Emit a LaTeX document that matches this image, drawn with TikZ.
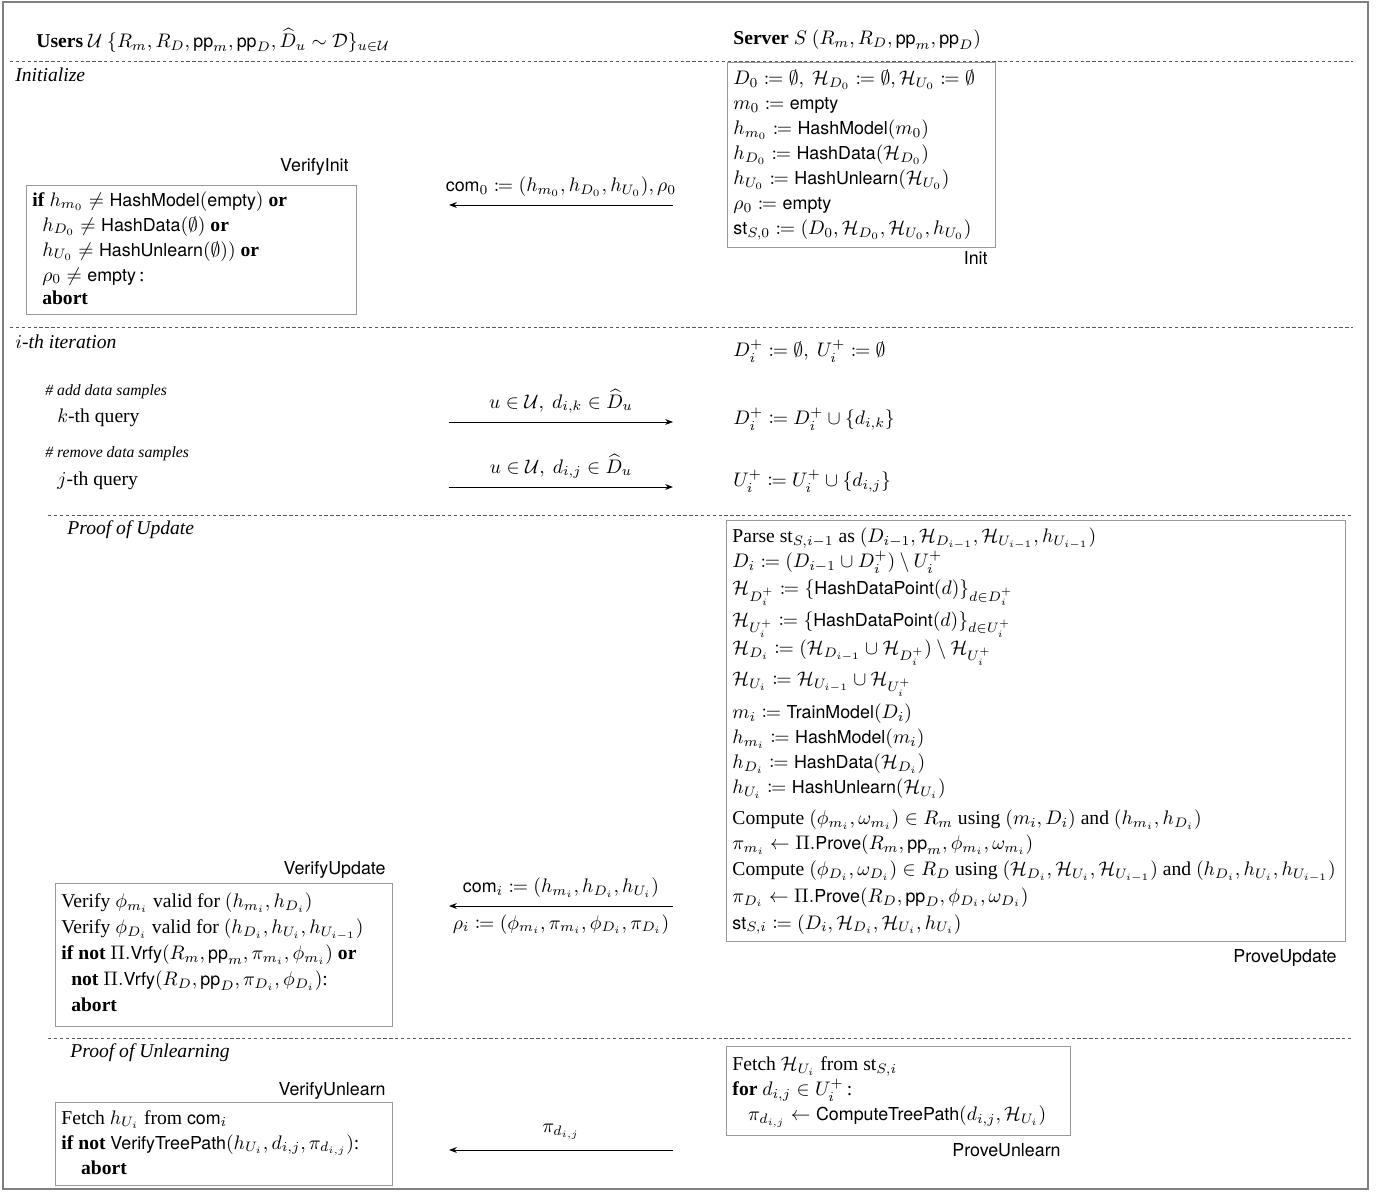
\documentclass[tikz,border=0pt]{standalone}
\usepackage{amsmath,amssymb}
\usepackage{mathtools}
\usepackage{fontspec}
\setmainfont{Liberation Serif}
\setsansfont[Scale=0.91]{TeX Gyre Heros}
\usetikzlibrary{arrows.meta}
\definecolor{framegray}{gray}{0.5}
\definecolor{boxgray}{gray}{0.6}
\definecolor{sepgray}{gray}{0.35}
\newcommand{\sfm}[1]{\textsf{#1}}
\newcommand{\boxlines}[2]{\makebox[#1][l]{\renewcommand{\arraystretch}{1.0625}\begin{tabular}{@{}l@{}}#2\end{tabular}}}
\tikzset{
  outerframe/.style={draw=framegray, line width=1pt},
  sepline/.style={draw=sepgray, line width=0.5pt, dash pattern=on 1.7pt off 1.3pt},
  pbox/.style={draw=boxgray, line width=0.6pt, anchor=north west, align=left,
    inner xsep=3pt, inner ysep=2.5pt},
  plabel/.style={font=\sffamily, inner sep=0pt, anchor=east},
  txt/.style={anchor=west, inner sep=0pt},
  msg/.style={-{Stealth[length=4pt,width=3pt]}, line width=0.5pt},
}
\begin{document}
\begin{tikzpicture}[x=0.51pt,y=-0.51pt]
\useasboundingbox (0,0) rectangle (1383,1192);
\draw[outerframe] (3,2) rectangle (1368,1189);

% headers
\node[txt] (users) at (36,40) {\textbf{Users} $\mathcal{U}$ $\{R_m, R_D, \sfm{pp}_m, \sfm{pp}_D, \widehat{D}_u \sim \mathcal{D}\}_{u\in\mathcal{U}}$};
\node[txt] (server) at (733,40) {\textbf{Server} $S$ $(R_m, R_D, \sfm{pp}_m, \sfm{pp}_D)$};

% separators
\draw[sepline] (10,61) -- (1353,61);
\draw[sepline] (10,327) -- (1353,327);
\draw[sepline] (48,515) -- (1353,515);
\draw[sepline] (48,1038) -- (1353,1038);

% Initialize
\node[txt] (initT) at (15,75) {\textit{Initialize}};
\node[pbox] (init) at (727,62) {\boxlines{130.7pt}{%
$D_0 \coloneqq \emptyset,\ \mathcal{H}_{D_0} \coloneqq \emptyset, \mathcal{H}_{U_0} \coloneqq \emptyset$\\
$m_0 \coloneqq \sfm{empty}$\\
$h_{m_0} \coloneqq \sfm{HashModel}(m_0)$\\
$h_{D_0} \coloneqq \sfm{HashData}(\mathcal{H}_{D_0})$\\
$h_{U_0} \coloneqq \sfm{HashUnlearn}(\mathcal{H}_{U_0})$\\
$\rho_0 \coloneqq \sfm{empty}$\\
$\sfm{st}_{S,0} \coloneqq (D_0, \mathcal{H}_{D_0}, \mathcal{H}_{U_0}, h_{U_0})$}};
\node[plabel] (initL) at (988,258) {Init};

\node[pbox, inner ysep=1.5pt] (vinit) at (26,185) {\boxlines{162.3pt}{%
\textbf{if} $h_{m_0} \neq \sfm{HashModel}(\sfm{empty})$ \textbf{or}\\
\hspace*{5pt}$h_{D_0} \neq \sfm{HashData}(\emptyset)$ \textbf{or}\\
\hspace*{5pt}$h_{U_0} \neq \sfm{HashUnlearn}(\emptyset))$ \textbf{or}\\
\hspace*{5pt}$\rho_0 \neq \sfm{empty}$\,:\\[-1pt]
\hspace*{5pt}\textbf{abort}}};
\node[plabel] (vinitL) at (349,167) {VerifyInit};

\coordinate (c0s) at (673,205);
\coordinate (c0e) at (449,205);
\draw[msg] (c0s) -- node[above, inner sep=4pt] (c0l) {$\sfm{com}_0 \coloneqq (h_{m_0}, h_{D_0}, h_{U_0}), \rho_0$} (c0e);

% i-th iteration
\node[txt] (iterT) at (15,342) {$i$\textit{-th iteration}};
\node[txt] (srv0) at (733,351) {$D_i^+ \coloneqq \emptyset,\ U_i^+ \coloneqq \emptyset$};

\node[txt] (addC) at (45,392) {\footnotesize\itshape \# add data samples};
\node[txt] (kq) at (57,418) {$k$-th query};
\coordinate (q1s) at (449,422);
\coordinate (q1e) at (673,422);
\draw[msg] (q1s) -- node[above, inner sep=4pt] (q1l) {$u \in \mathcal{U},\ d_{i,k} \in \widehat{D}_u$} (q1e);
\node[txt] (srv1) at (733,419) {$D_i^+ \coloneqq D_i^+ \cup \{d_{i,k}\}$};

\node[txt] (remC) at (45,454) {\footnotesize\itshape \# remove data samples};
\node[txt] (jq) at (57,481) {$j$-th query};
\coordinate (q2s) at (449,487);
\coordinate (q2e) at (673,487);
\draw[msg] (q2s) -- node[above, inner sep=4pt] (q2l) {$u \in \mathcal{U},\ d_{i,j} \in \widehat{D}_u$} (q2e);
\node[txt] (srv2) at (733,481) {$U_i^+ \coloneqq U_i^+ \cup \{d_{i,j}\}$};

% Proof of Update
\node[txt] (updT) at (67,530) {\textit{Proof of Update}};
\node[pbox] (pupd) at (726,520) {\boxlines{309.7pt}{%
Parse $\mathrm{st}_{S,i-1}$ as $(D_{i-1}, \mathcal{H}_{D_{i-1}}, \mathcal{H}_{U_{i-1}}, h_{U_{i-1}})$\\
$D_i \coloneqq (D_{i-1} \cup D_i^+) \setminus U_i^+$\\[1pt]
$\mathcal{H}_{D_i^+} \coloneqq \{\sfm{HashDataPoint}(d)\}_{d\in D_i^+}$\\[3.3pt]
$\mathcal{H}_{U_i^+} \coloneqq \{\sfm{HashDataPoint}(d)\}_{d\in U_i^+}$\\[1.3pt]
$\mathcal{H}_{D_i} \coloneqq (\mathcal{H}_{D_{i-1}} \cup \mathcal{H}_{D_i^+}) \setminus \mathcal{H}_{U_i^+}$\\[3pt]
$\mathcal{H}_{U_i} \coloneqq \mathcal{H}_{U_{i-1}} \cup \mathcal{H}_{U_i^+}$\\[4.2pt]
$m_i \coloneqq \sfm{TrainModel}(D_i)$\\
$h_{m_i} \coloneqq \sfm{HashModel}(m_i)$\\
$h_{D_i} \coloneqq \sfm{HashData}(\mathcal{H}_{D_i})$\\
$h_{U_i} \coloneqq \sfm{HashUnlearn}(\mathcal{H}_{U_i})$\\[2.8pt]
Compute $(\phi_{m_i}, \omega_{m_i}) \in R_m$ using $(m_i, D_i)$ and $(h_{m_i}, h_{D_i})$\\
$\pi_{m_i} \leftarrow \Pi.\sfm{Prove}(R_m, \sfm{pp}_m, \phi_{m_i}, \omega_{m_i})$\\[0.5pt]
Compute $(\phi_{D_i}, \omega_{D_i}) \in R_D$ using $(\mathcal{H}_{D_i}, \mathcal{H}_{U_i}, \mathcal{H}_{U_{i-1}})$ and $(h_{D_i}, h_{U_i}, h_{U_{i-1}})$\\[1pt]
$\pi_{D_i} \leftarrow \Pi.\sfm{Prove}(R_D, \sfm{pp}_D, \phi_{D_i}, \omega_{D_i})$\\[1pt]
$\sfm{st}_{S,i} \coloneqq (D_i, \mathcal{H}_{D_i}, \mathcal{H}_{U_i}, h_{U_i})$}};
\node[plabel] (pupdL) at (1337,958) {ProveUpdate};

\node[pbox, inner ysep=3.5pt] (vupd) at (55,883) {\boxlines{165.9pt}{%
Verify $\phi_{m_i}$ valid for $(h_{m_i}, h_{D_i})$\\[0.5pt]
Verify $\phi_{D_i}$ valid for $(h_{D_i}, h_{U_i}, h_{U_{i-1}})$\\[0.5pt]
\textbf{if not} $\Pi.\sfm{Vrfy}(R_m, \sfm{pp}_m, \pi_{m_i}, \phi_{m_i})$ \textbf{or}\\[0.5pt]
\hspace*{5pt}\textbf{not} $\Pi.\sfm{Vrfy}(R_D, \sfm{pp}_D, \pi_{D_i}, \phi_{D_i})$:\\[0.5pt]
\hspace*{5pt}\textbf{abort}}};
\node[plabel] (vupdL) at (386,870) {VerifyUpdate};

\coordinate (cis) at (673,906);
\coordinate (cie) at (449,906);
\draw[msg] (cis) -- node[above, inner sep=4pt] (cil) {$\sfm{com}_i \coloneqq (h_{m_i}, h_{D_i}, h_{U_i})$}
  node[below, inner sep=4pt] (ril) {$\rho_i \coloneqq (\phi_{m_i}, \pi_{m_i}, \phi_{D_i}, \pi_{D_i})$} (cie);

% Proof of Unlearning
\node[txt] (unlT) at (70,1053) {\textit{Proof of Unlearning}};
\node[pbox, inner ysep=3.5pt] (punl) at (726,1046) {\boxlines{169.4pt}{%
Fetch $\mathcal{H}_{U_i}$ from $\mathrm{st}_{S,i}$\\
\textbf{for} $d_{i,j} \in U_i^+$\,:\\
\hspace*{8pt}$\pi_{d_{i,j}} \leftarrow \sfm{ComputeTreePath}(d_{i,j}, \mathcal{H}_{U_i})$}};
\node[plabel] (punlL) at (1061,1150) {ProveUnlearn};

\node[pbox, inner ysep=2pt] (vunl) at (55,1102) {\boxlines{165.9pt}{%
Fetch $h_{U_i}$ from $\sfm{com}_i$\\
\textbf{if not} $\sfm{VerifyTreePath}(h_{U_i}, d_{i,j}, \pi_{d_{i,j}})$:\\
\hspace*{10pt}\textbf{abort}}};
\node[plabel] (vunlL) at (386,1091) {VerifyUnlearn};

\coordinate (pus) at (673,1150);
\coordinate (pue) at (449,1150);
\draw[msg] (pus) -- node[above, inner sep=5pt] (pul) {$\pi_{d_{i,j}}$} (pue);
\end{tikzpicture}
\end{document}
